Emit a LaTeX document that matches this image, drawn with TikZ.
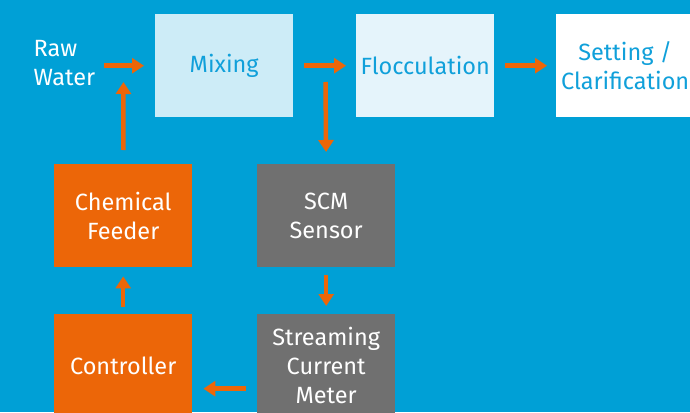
\documentclass[tikz,border=0pt]{standalone}
\usepackage{fontspec}
\setmainfont{Fira Sans}
\usetikzlibrary{arrows.meta}

\definecolor{bgblue}{RGB}{0,160,214}
\definecolor{mixfill}{RGB}{205,236,247}
\definecolor{flocfill}{RGB}{229,244,251}
\definecolor{textblue}{RGB}{16,160,218}
\definecolor{feedorange}{RGB}{236,102,8}
\definecolor{metergray}{RGB}{112,112,112}

\tikzset{
  box/.style={minimum width=138pt, minimum height=103pt, inner sep=0pt,
    anchor=north west, align=center, font=\fontsize{23.5}{29}\selectfont},
  topbox/.style={box, text=textblue},
  lowbox/.style={box, text=white},
  flow/.style={draw=feedorange, line width=4.5pt,
    -{Triangle[length=12pt,width=15pt]}}
}

\begin{document}
\begin{tikzpicture}[x=1pt, y=-1pt]

  \useasboundingbox (0,0) rectangle (690,412);
  \clip (0,0) rectangle (690,412);
  \fill[bgblue] (0,0) rectangle (690,412);

  % treatment line
  \node[align=left, anchor=west, inner sep=0pt, text=white, font=\fontsize{23.5}{29}\selectfont] (raw) at (33.5,63.5) {Raw\\Water};
  \node[topbox, fill=mixfill] (mix) at (155,14) {Mixing};
  \node[topbox, fill=flocfill] (floc) at (356,14) {Flocculation};
  \node[topbox, fill=white] (clar) at (556,14) {Setting /\\Clarification};

  % control loop
  \node[lowbox, fill=feedorange] (feeder) at (54,164) {Chemical\\Feeder};
  \node[lowbox, fill=feedorange] (ctrl) at (54,314) {Controller};
  \node[lowbox, fill=metergray] (sensor) at (257,164) {SCM\\Sensor};
  \node[lowbox, fill=metergray] (meter) at (257,314) {Streaming\\Current\\Meter};

  \coordinate (inj) at (123.5,82);
  \coordinate (tap) at (325.5,82);

  \draw[flow, shorten <=9pt, shorten >=11pt] (raw.east |- mix.west) -- (mix.west);
  \draw[flow, shorten <=11pt, shorten >=10pt] (mix.east) -- (floc.west);
  \draw[flow, shorten <=11pt, shorten >=9pt] (floc.east) -- (clar.west);

  \draw[flow, shorten >=12pt] (tap) -- (sensor.north);
  \draw[flow, shorten <=8pt, shorten >=8pt] (sensor.south) -- (meter.north);
  \draw[flow, shorten <=11pt, shorten >=11pt] ([yshift=-23pt]meter.west) -- ([yshift=-23pt]ctrl.east);
  \draw[flow, shorten <=7pt, shorten >=9pt] (ctrl.north) -- (feeder.south);
  \draw[flow, shorten <=14pt] (feeder.north) -- (inj);

\end{tikzpicture}
\end{document}
